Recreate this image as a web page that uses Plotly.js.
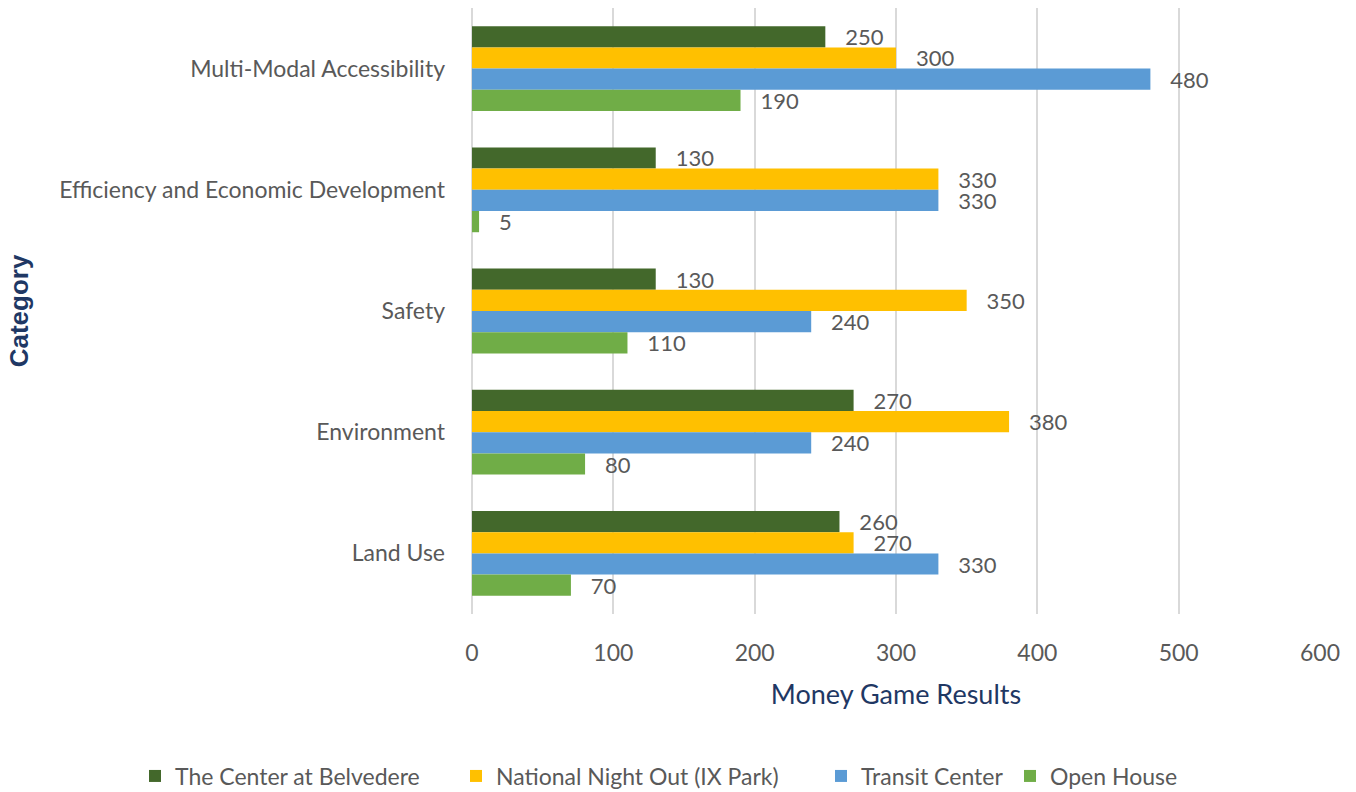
<!DOCTYPE html>
<html>
<head>
<meta charset="utf-8">
<script src="https://cdn.plot.ly/plotly-3.0.1.min.js"></script>
<style>html,body{margin:0;padding:0;background:#fff;}#chart{width:1356px;height:792px;}</style>
</head>
<body>
<div id="chart"></div>
<script>
const categories = ["Multi-Modal Accessibility", "Efficiency and Economic Development", "Safety", "Environment", "Land Use"];
const seriesNames = ["The Center at Belvedere", "National Night Out (IX Park)", "Transit Center", "Open House"];
const belvedere = [250, 130, 130, 270, 260];
const nightOut = [300, 330, 350, 380, 270];
const transit = [480, 330, 240, 240, 330];
const openHouse = [190, 5, 110, 80, 70];
const xTicks = [0, 100, 200, 300, 400, 500, 600];

const colors = ["#43682B", "#FFC000", "#5B9BD5", "#70AD47"];
const values = [belvedere, nightOut, transit, openHouse];
const FONT = "Lato, 'Noto Sans', sans-serif";
const GRAY = "#595959";
const NAVY = "#1F3864";

const W = 1356, H = 792;
const M = {l: 472, r: 36, t: 8, b: 178};
const PW = W - M.l - M.r, PH = H - M.t - M.b;
const legendLefts = [135, 456, 821, 1010];
const legendIds = ["legend", "legend2", "legend3", "legend4"];

const traces = values.map((v, i) => ({
  type: "bar",
  orientation: "h",
  name: seriesNames[i],
  legend: legendIds[i],
  y: categories,
  x: v,
  marker: {color: colors[i]},
  texttemplate: "\u00a0\u00a0\u00a0%{x}",
  textposition: "outside",
  constraintext: "none",
  cliponaxis: false,
  textfont: {family: FONT, size: 22, color: GRAY},
  hoverinfo: "x+name"
}));

const layout = {
  width: W, height: H,
  paper_bgcolor: "#fff", plot_bgcolor: "#fff",
  margin: {l: M.l, r: M.r, t: M.t, b: M.b, autoexpand: false},
  barmode: "group",
  bargap: 0.3,
  bargroupgap: 0,
  font: {family: FONT, color: GRAY, size: 22},
  xaxis: {
    range: [0, 600],
    tickvals: xTicks,
    ticktext: xTicks.map(String),
    showgrid: true, gridcolor: "#D9D9D9", gridwidth: 2,
    zeroline: true, zerolinecolor: "#D9D9D9", zerolinewidth: 2,
    showline: false,
    ticks: "",
    ticklabelstandoff: 23,
    tickfont: {family: FONT, size: 23, color: GRAY},
    title: {text: "Money Game Results", font: {family: FONT, size: 27, color: NAVY}, standoff: 20}
  },
  yaxis: {
    type: "category",
    categoryorder: "array",
    categoryarray: categories,
    autorange: "reversed",
    showgrid: false, zeroline: false, showline: false,
    ticks: "",
    ticklabelstandoff: 26,
    tickfont: {family: FONT, size: 23, color: GRAY},
    title: {text: "Category", font: {family: "'Liberation Sans', Arial, sans-serif", size: 26, color: NAVY, weight: "bold"}, standoff: 23}
  },
  showlegend: true
};

legendIds.forEach((id, i) => {
  layout[id] = {
    orientation: "h",
    xref: "paper", yref: "paper",
    x: (legendLefts[i] - M.l) / PW, xanchor: "left",
    y: (M.t + PH - 776) / PH, yanchor: "middle",
    font: {family: FONT, size: 23, color: GRAY},
    bgcolor: "rgba(0,0,0,0)"
  };
});

Plotly.newPlot("chart", traces, layout, {displayModeBar: false, staticPlot: true});
</script>
</body>
</html>
